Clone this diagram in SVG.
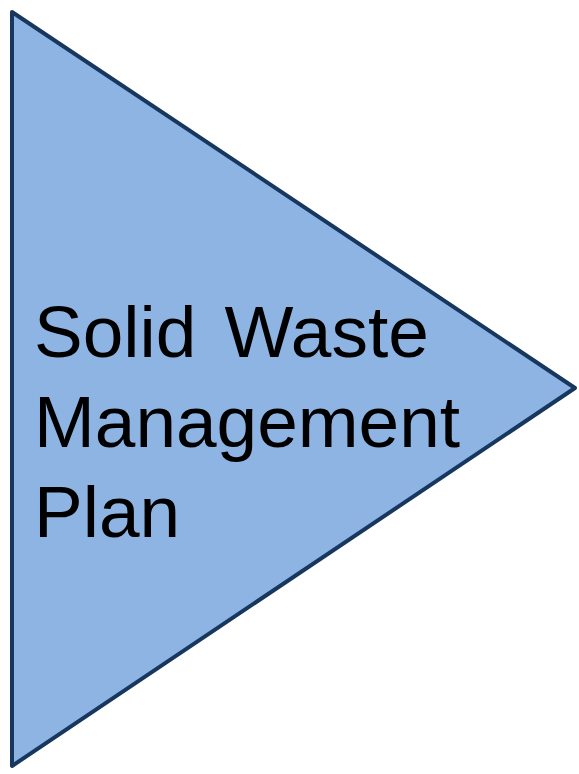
<svg xmlns="http://www.w3.org/2000/svg" width="579" height="774" viewBox="0 0 579 774">
<style>
.shape{fill:#8eb4e3;stroke:#17375e;stroke-width:4;stroke-linejoin:round}
.lbl{font-family:"Liberation Sans",Arial,sans-serif;font-size:73px;fill:#000}
</style>
<rect width="579" height="774" fill="#ffffff"/>
<g id="node-plan">
<polygon class="shape" points="12,12 575,388 12,766"/>
<text class="lbl" x="34" y="357" word-spacing="8">Solid Waste</text>
<text class="lbl" x="34" y="447">Management</text>
<text class="lbl" x="34" y="537">Plan</text>
</g>
<g id="connectors"></g>
</svg>
